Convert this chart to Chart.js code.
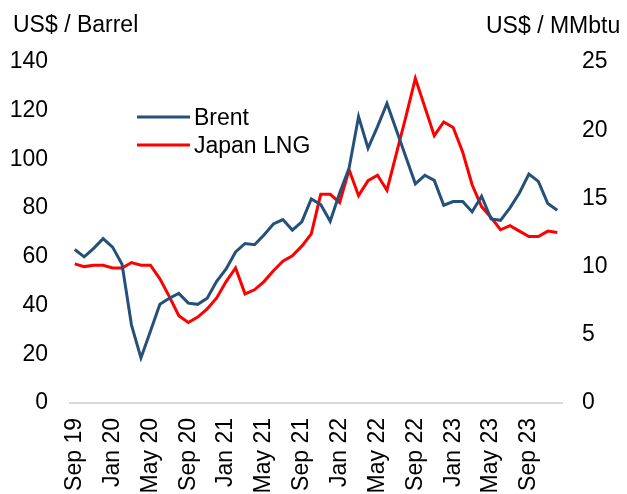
<!DOCTYPE html>
<html>
<head>
<meta charset="utf-8">
<script src="https://cdn.jsdelivr.net/npm/chart.js@4"></script>
<style>
  html, body { margin: 0; padding: 0; background: #ffffff; }
  #wrap { position: relative; width: 627px; height: 494px; }
  .axis-title { position: absolute; font-family: "Liberation Sans", Arial, sans-serif; font-size: 23px; line-height: 23px; color: #000; white-space: nowrap; }
</style>
</head>
<body>
<div id="wrap">
  <canvas id="priceChart" width="627" height="494"></canvas>
  <div class="axis-title" style="left: 13px; top: 12.5px;">US$ / Barrel</div>
  <div class="axis-title" style="left: 486px; top: 13.5px;">US$ / MMbtu</div>
</div>
<script>
const months = [
    'Sep 19', 'Oct 19', 'Nov 19', 'Dec 19',
    'Jan 20', 'Feb 20', 'Mar 20', 'Apr 20', 'May 20', 'Jun 20', 'Jul 20', 'Aug 20', 'Sep 20', 'Oct 20', 'Nov 20', 'Dec 20',
    'Jan 21', 'Feb 21', 'Mar 21', 'Apr 21', 'May 21', 'Jun 21', 'Jul 21', 'Aug 21', 'Sep 21', 'Oct 21', 'Nov 21', 'Dec 21',
    'Jan 22', 'Feb 22', 'Mar 22', 'Apr 22', 'May 22', 'Jun 22', 'Jul 22', 'Aug 22', 'Sep 22', 'Oct 22', 'Nov 22', 'Dec 22',
    'Jan 23', 'Feb 23', 'Mar 23', 'Apr 23', 'May 23', 'Jun 23', 'Jul 23', 'Aug 23', 'Sep 23', 'Oct 23', 'Nov 23', 'Dec 23',
];

// US$ / barrel (left axis)
const brent = [
    63, 60, 63.5, 67.5,
    64, 57, 32, 18.5, 29.5, 40.5, 43, 45, 41, 40.5, 43, 50,
    55, 62, 65.5, 65, 69, 73.5, 75.3, 71, 74.4, 83.8, 81.5, 74.6,
    86.2, 96.5, 117.6, 104.6, 113.5, 123, 112, 101, 90, 93.5, 91.4, 81.2,
    82.7, 82.7, 78.5, 84.9, 75.6, 75, 80.1, 86.2, 94, 91, 81.9, 79.1,
];

// US$ / MMbtu (right axis)
const japanLng = [
    10.2, 10.0, 10.1, 10.1,
    9.9, 9.9, 10.3, 10.1, 10.1, 9.1, 7.8, 6.4, 5.9, 6.3, 6.9, 7.7,
    8.9, 9.9, 8.0, 8.3, 8.9, 9.7, 10.4, 10.8, 11.5, 12.4, 15.3, 15.3,
    14.7, 17.1, 15.2, 16.3, 16.7, 15.6, 18.3, 21.0, 23.8, 21.7, 19.6, 20.6,
    20.2, 18.4, 16.0, 14.4, 13.6, 12.7, 13.0, 12.6, 12.2, 12.2, 12.6, 12.5,
];

const FONT = { family: '"Liberation Sans", Arial, sans-serif', size: 23 };

// legend drawn inside the plot, like the original
const insideLegend = {
    id: 'insideLegend',
    afterDraw(chart) {
        const ctx = chart.ctx;
        ctx.save();
        ctx.font = '23px "Liberation Sans", Arial, sans-serif';
        ctx.textBaseline = 'alphabetic';
        chart.data.datasets.forEach((ds, i) => {
            const y = 117 + i * 28;
            ctx.strokeStyle = ds.borderColor;
            ctx.lineWidth = 3;
            ctx.beginPath();
            ctx.moveTo(137, y);
            ctx.lineTo(190, y);
            ctx.stroke();
            ctx.fillStyle = '#000';
            ctx.fillText(ds.label, 194, y + 7.5);
        });
        ctx.restore();
    },
};

new Chart(document.getElementById('priceChart'), {
    type: 'line',
    data: {
        labels: months,
        datasets: [
            {
                label: 'Brent',
                data: brent,
                borderColor: '#25507a',
                borderWidth: 3,
                pointRadius: 0,
                tension: 0,
                yAxisID: 'y',
            },
            {
                label: 'Japan LNG',
                data: japanLng,
                borderColor: '#ff0000',
                borderWidth: 3,
                pointRadius: 0,
                tension: 0,
                yAxisID: 'y1',
            },
        ],
    },
    options: {
        responsive: false,
        animation: false,
        layout: { padding: { top: 62, left: 0, right: 0, bottom: 0 } },
        plugins: {
            legend: { display: false },
            tooltip: { enabled: false },
        },
        scales: {
            x: {
                offset: true,
                grid: { display: false, drawTicks: false },
                border: { display: true, color: '#d9d9d9', width: 2 },
                ticks: {
                    color: '#000',
                    font: FONT,
                    autoSkip: false,
                    minRotation: 90,
                    maxRotation: 90,
                    padding: 15,
                    callback: (v, i) => (i % 4 === 0 ? months[i] : ''),
                },
                afterFit: s => { s.height = 91; },
            },
            y: {
                position: 'left',
                min: 0,
                max: 140,
                grid: { display: false, drawTicks: false },
                border: { display: false },
                ticks: { stepSize: 20, color: '#000', font: FONT, padding: 22 },
                afterFit: s => { s.width = 70; },
            },
            y1: {
                position: 'right',
                min: 0,
                max: 25,
                grid: { display: false, drawTicks: false },
                border: { display: false },
                ticks: { stepSize: 5, color: '#000', font: FONT, padding: 20 },
                afterFit: s => { s.width = 65; },
            },
        },
    },
    plugins: [insideLegend],
});
</script>
</body>
</html>
